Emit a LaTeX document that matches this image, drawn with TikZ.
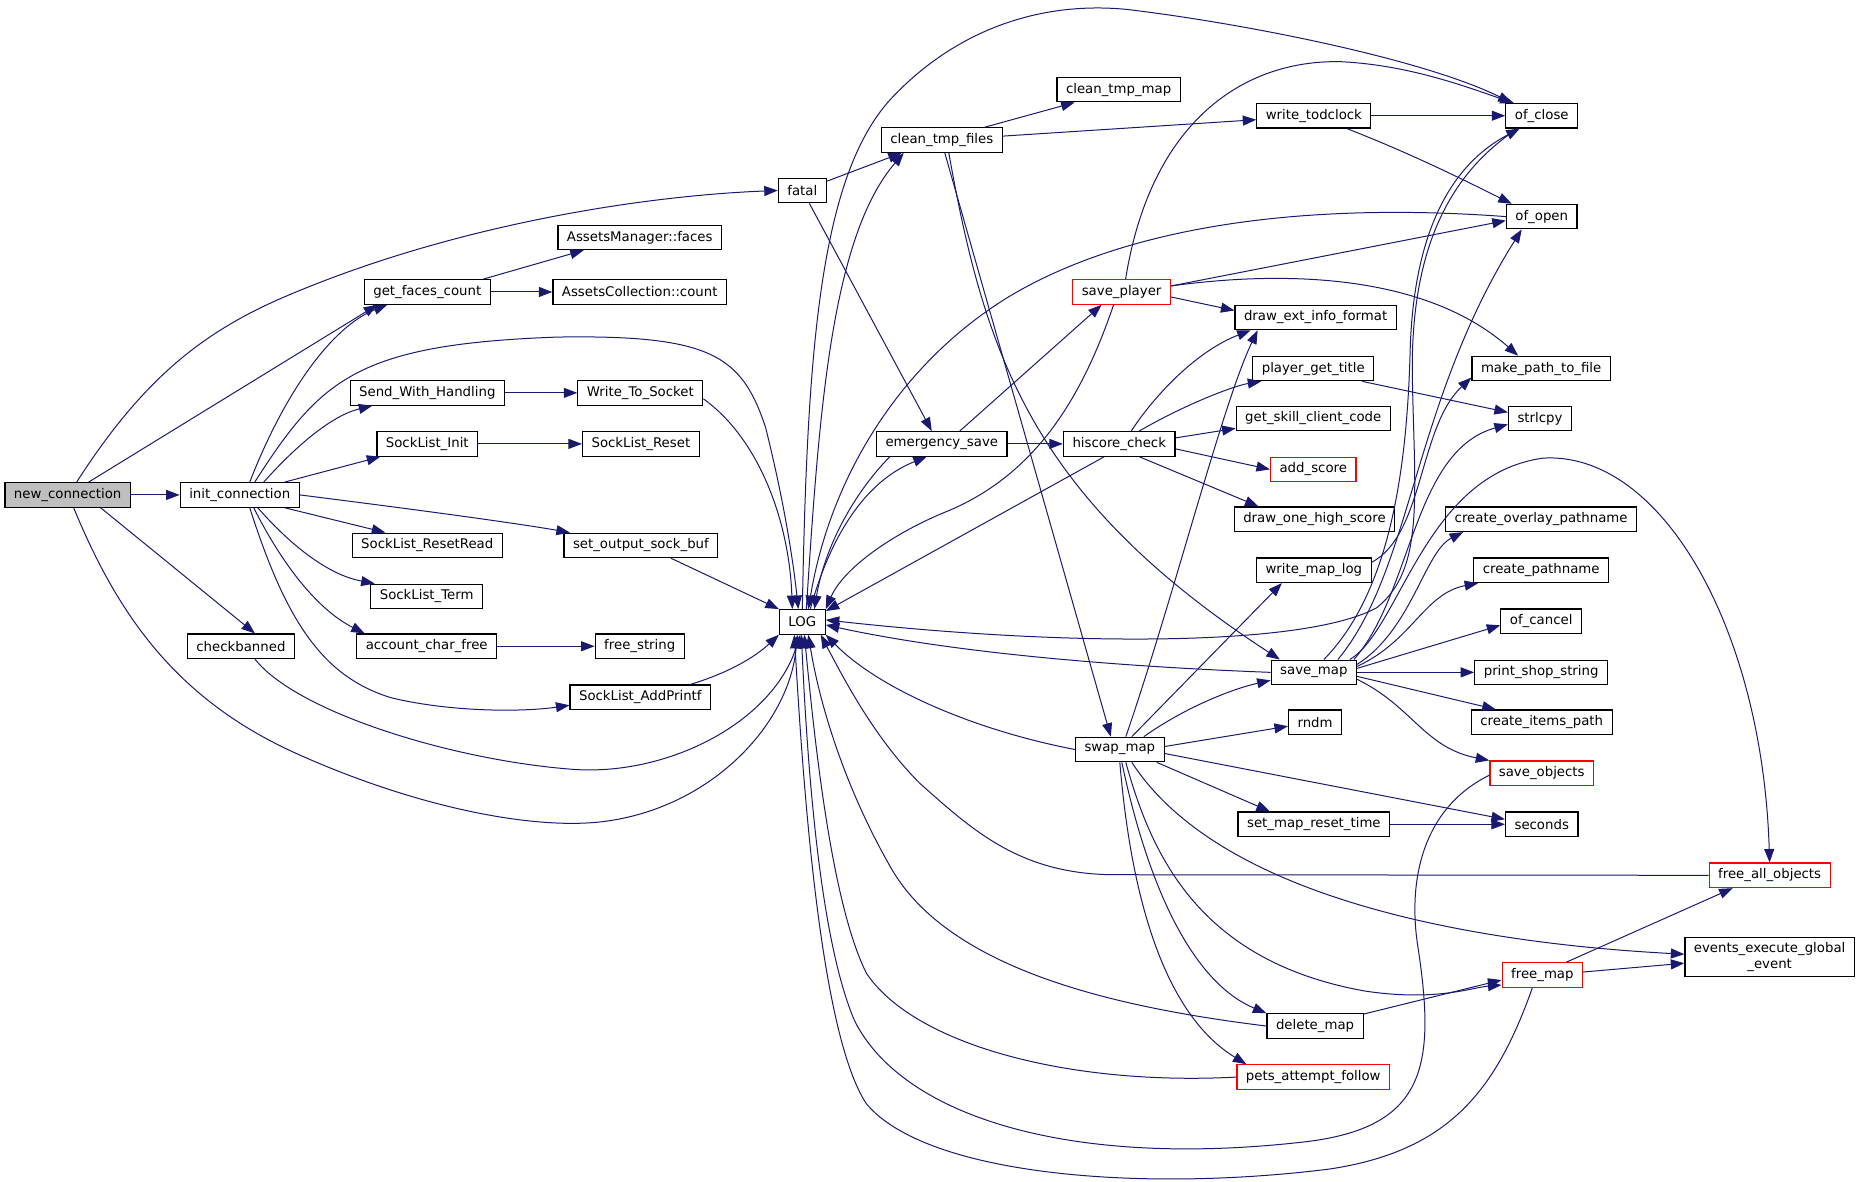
\documentclass[tikz,border=0pt]{standalone}
\usepackage{fontspec}
\setmainfont{DejaVu Sans}
\usetikzlibrary{arrows.meta}
\definecolor{edgeblue}{HTML}{191970}
\definecolor{redline}{HTML}{FF0000}
\definecolor{curgray}{HTML}{BFBFBF}
\begin{document}
\begin{tikzpicture}[x=1.1869pt,y=-1.1869pt,
 fn/.style={draw=black,line width=1.2pt,fill=white,rectangle,inner xsep=9pt,inner ysep=2pt,
  minimum height=24.5pt,font=\fontsize{13.3pt}{16pt}\selectfont},
 fnred/.style={fn,draw=redline},
 fncur/.style={fn,fill=curgray},
 call/.style={draw=edgeblue,line width=1pt,-{Triangle[length=13.5pt,width=10pt]}}]
\useasboundingbox (0,0) rectangle (1568,995.9);
\node[fncur] (newconnection) at (57,417) {new\_connection};
\node[fn] (initconnection) at (202,417) {init\_connection};
\node[fn] (checkbanned) at (203,544.5) {checkbanned};
\node[fn] (fatal) at (676,160.5) {fatal};
\node[fn] (getfacescount) at (360,246) {get\_faces\_count};
\node[fn] (assetsmanagerfaces) at (539,200) {AssetsManager::faces};
\node[fn] (assetscollectioncount) at (539,246) {AssetsCollection::count};
\node[fn] (sendwithhandling) at (360,331) {Send\_With\_Handling};
\node[fn] (writetosocket) at (539.5,331) {Write\_To\_Socket};
\node[fn] (socklistinit) at (360,374) {SockList\_Init};
\node[fn] (socklistreset) at (540,374) {SockList\_Reset};
\node[fn] (socklistresetread) at (360,459.5) {SockList\_ResetRead};
\node[fn] (setoutputsockbuf) at (540,459.5) {set\_output\_sock\_buf};
\node[fn] (socklistterm) at (359.5,502.5) {SockList\_Term};
\node[fn] (accountcharfree) at (359.5,544.5) {account\_char\_free};
\node[fn] (freestring) at (539,544.5) {free\_string};
\node[fn] (socklistaddprintf) at (539.5,587.5) {SockList\_AddPrintf};
\node[fn] (LOG) at (676,524) {LOG};
\node[fn] (cleantmpfiles) at (793.5,118) {clean\_tmp\_files};
\node[fn] (cleantmpmap) at (942.5,75.5) {clean\_tmp\_map};
\node[fn] (writetodclock) at (1107,97.5) {write\_todclock};
\node[fn] (ofclose) at (1299,97.5) {of\_close};
\node[fn] (ofopen) at (1299,182.5) {of\_open};
\node[fnred] (saveplayer) at (945,246) {save\_player};
\node[fn] (drawextinfoformat) at (1108.5,267.5) {draw\_ext\_info\_format};
\node[fn] (playergettitle) at (1106.5,310.5) {player\_get\_title};
\node[fn] (getskillclientcode) at (1106.5,352.5) {get\_skill\_client\_code};
\node[fnred] (addscore) at (1106.5,395.5) {add\_score};
\node[fn] (drawonehighscore) at (1107.5,437.5) {draw\_one\_high\_score};
\node[fn] (writemaplog) at (1107,480.5) {write\_map\_log};
\node[fn] (emergencysave) at (793.5,374) {emergency\_save};
\node[fn] (hiscorecheck) at (943,374) {hiscore\_check};
\node[fn] (makepathtofile) at (1298.5,310.5) {make\_path\_to\_file};
\node[fn] (strlcpy) at (1297.5,352.5) {strlcpy};
\node[fn] (createoverlaypathname) at (1298.5,437.5) {create\_overlay\_pathname};
\node[fn] (createpathname) at (1298.5,480.5) {create\_pathname};
\node[fn] (ofcancel) at (1298.5,523.5) {of\_cancel};
\node[fn] (savemap) at (1107,566.5) {save\_map};
\node[fn] (printshopstring) at (1298.5,566.5) {print\_shop\_string};
\node[fn] (createitemspath) at (1299,608.5) {create\_items\_path};
\node[fn] (rndm) at (1108,608.5) {rndm};
\node[fnred] (saveobjects) at (1299,651.5) {save\_objects};
\node[fn] (swapmap) at (943.5,631.5) {swap\_map};
\node[fn] (setmapresettime) at (1107,694.5) {set\_map\_reset\_time};
\node[fn] (seconds) at (1299,694.5) {seconds};
\node[fnred] (freeallobjects) at (1491,737.5) {free\_all\_objects};
\node[fn,align=center,minimum height=39pt] (eventsexecute) at (1491,806.5) {events\_execute\_global\\\_event};
\node[fnred] (freemap) at (1299.5,821.5) {free\_map};
\node[fn] (deletemap) at (1108,864.5) {delete\_map};
\node[fnred] (petsattemptfollow) at (1106.5,907.5) {pets\_attempt\_follow};

\draw[call] (newconnection) -- (initconnection);
\draw[call] ([xshift=21pt]newconnection.north) -- ([xshift=-50pt]getfacescount.south);
\draw[call] ([xshift=9pt]newconnection.north) .. controls (120,320) and (170,280) .. (240,250) .. controls (380,190) and (540,165) .. (fatal.west);
\draw[call] ([xshift=33pt]newconnection.south) -- ([xshift=14pt]checkbanned.north);
\draw[call] ([xshift=6pt]newconnection.south) .. controls (100,520) and (150,590) .. (250,635) .. controls (350,680) and (450,700) .. (510,692) .. controls (600,680) and (665,610) .. ([xshift=-5pt]LOG.south);
\draw[call] ([xshift=14pt]checkbanned.south) .. controls (250,600) and (380,640) .. (480,648) .. controls (560,655) and (650,610) .. ([xshift=-2pt]LOG.south);
\draw[call] ([xshift=10pt]initconnection.north) .. controls (240,330) and (280,275) .. ([xshift=-40pt]getfacescount.south);
\draw[call] ([xshift=15pt]initconnection.north) .. controls (270,320) and (300,290) .. (470,284) .. controls (600,282) and (625,300) .. (645,360) .. controls (660,420) and (668,470) .. ([xshift=-4pt]LOG.north);
\draw[call] ([xshift=24pt]initconnection.north) .. controls (250,375) and (280,350) .. ([xshift=-55pt]sendwithhandling.south);
\draw[call] ([xshift=45pt]initconnection.north) -- ([xshift=-47pt]socklistinit.south);
\draw[call] ([xshift=45pt]initconnection.south) -- ([xshift=-42pt]socklistresetread.north);
\draw[call] (initconnection.east) .. controls (340,428) and (430,440) .. ([xshift=-71pt]setoutputsockbuf.north);
\draw[call] ([xshift=18pt]initconnection.south) .. controls (250,465) and (280,485) .. ([xshift=-52pt]socklistterm.north);
\draw[call] ([xshift=14pt]initconnection.south) .. controls (240,480) and (270,515) .. ([xshift=-62pt]accountcharfree.north);
\draw[call] ([xshift=10pt]initconnection.south) .. controls (240,520) and (270,570) .. (330,588) .. controls (380,600) and (440,600) .. ([yshift=-8pt]socklistaddprintf.west);
\draw[call] ([xshift=56pt]getfacescount.north) -- ([xshift=-56pt]assetsmanagerfaces.south);
\draw[call] (getfacescount) -- (assetscollectioncount);
\draw[call] (sendwithhandling) -- (writetosocket);
\draw[call] (socklistinit) -- (socklistreset);
\draw[call] (accountcharfree) -- (freestring);
\draw[call] ([yshift=-6pt]writetosocket.east) .. controls (640,370) and (665,440) .. ([xshift=-10pt]LOG.north);
\draw[call] ([xshift=30pt]setoutputsockbuf.south) -- (LOG.north west);
\draw[call] ([xshift=50pt]socklistaddprintf.north) .. controls (620,565) and (640,550) .. (LOG.south west);
\draw[call] (fatal) -- ([xshift=-40pt]cleantmpfiles.south);
\draw[call] ([xshift=7pt]fatal.south) -- ([xshift=-10pt]emergencysave.north);
\draw[call] ([xshift=4pt]LOG.north) .. controls (690,350) and (700,200) .. ([xshift=-38pt]cleantmpfiles.south);
\draw[call] (LOG.north) .. controls (680,300) and (690,150) .. (750,84) .. controls (800,30) and (870,0) .. (950,8) .. controls (1050,20) and (1200,50) .. ([xshift=-30pt]ofclose.north);
\draw[call] ([xshift=8pt]LOG.north) .. controls (700,450) and (730,405) .. ([xshift=-15pt]emergencysave.south);
\draw[call] ([xshift=-52pt]emergencysave.south) .. controls (720,415) and (695,460) .. ([xshift=12pt]LOG.north);
\draw[call] ([xshift=18pt]emergencysave.north) -- ([xshift=-20pt]saveplayer.south);
\draw[call] (emergencysave) -- (hiscorecheck);
\draw[call] ([xshift=-8pt]saveplayer.south) .. controls (910,340) and (870,400) .. (800,430) .. controls (750,450) and (710,480) .. (LOG.north east);
\draw[call] ([xshift=-15pt]hiscorecheck.south) -- ([yshift=-2pt]LOG.north east);
\draw[call] (ofopen.west) .. controls (1100,170) and (950,190) .. (850,250) .. controls (760,305) and (700,400) .. ([xshift=6pt]LOG.north);
\draw[call] ([xshift=43pt]cleantmpfiles.north) -- ([xshift=-44pt]cleantmpmap.south);
\draw[call] (cleantmpfiles) -- ([yshift=-4pt]writetodclock.west);
\draw[call] ([xshift=3pt]cleantmpfiles.south) -- ([xshift=-9pt]swapmap.north);
\draw[call] ([xshift=7pt]cleantmpfiles.south) .. controls (830,300) and (870,420) .. ([xshift=-34pt]savemap.north);
\draw[call] (writetodclock) -- (ofclose);
\draw[call] ([xshift=33pt]writetodclock.south) .. controls (1190,130) and (1230,150) .. ([xshift=-30pt]ofopen.north);
\draw[call] ([xshift=4pt]saveplayer.north) .. controls (970,100) and (1050,50) .. (1130,52) .. controls (1190,55) and (1240,75) .. ([xshift=-28pt]ofclose.north);
\draw[call] ([yshift=6pt]saveplayer.east) -- ([yshift=-4pt]ofopen.west);
\draw[call] ([yshift=-5pt]saveplayer.east) -- ([yshift=7pt]drawextinfoformat.west);
\draw[call] ([yshift=6pt]saveplayer.east) .. controls (1080,228) and (1200,230) .. ([xshift=-23pt]makepathtofile.north);
\draw[call] ([xshift=12pt]hiscorecheck.north) .. controls (975,330) and (1010,295) .. ([xshift=-65pt]drawextinfoformat.south);
\draw[call] ([xshift=20pt]hiscorecheck.north) .. controls (1000,340) and (1040,325) .. ([xshift=-52pt]playergettitle.south);
\draw[call] ([yshift=6pt]hiscorecheck.east) -- ([yshift=-10pt]getskillclientcode.west);
\draw[call] ([yshift=-5pt]hiscorecheck.east) -- (addscore.west);
\draw[call] ([xshift=20pt]hiscorecheck.south) -- ([xshift=-56pt]drawonehighscore.north);
\draw[call] ([xshift=49pt]playergettitle.south) -- ([yshift=6pt]strlcpy.west);
\draw[call] ([xshift=6pt]swapmap.north) .. controls (990,500) and (1030,340) .. ([xshift=-58pt]drawextinfoformat.south);
\draw[call] ([xshift=12pt]swapmap.north) -- ([xshift=-32pt]writemaplog.south);
\draw[call] ([xshift=24pt]swapmap.north) .. controls (1000,595) and (1040,580) .. ([yshift=-8pt]savemap.west);
\draw[call] ([yshift=3pt]swapmap.east) -- ([yshift=-4pt]rndm.west);
\draw[call] ([xshift=37pt]swapmap.south) -- ([xshift=-44pt]setmapresettime.north);
\draw[call] ([yshift=-4pt]swapmap.east) -- ([yshift=5pt]seconds.west);
\draw[call] ([xshift=12pt]swapmap.south) .. controls (1030,760) and (1250,795) .. ([yshift=3pt]eventsexecute.west);
\draw[call] ([xshift=6pt]swapmap.south) .. controls (970,720) and (1010,810) .. (1150,835) .. controls (1210,844) and (1240,832) .. ([yshift=-10pt]freemap.west);
\draw[call] ([xshift=2pt]swapmap.south) .. controls (970,760) and (1010,830) .. (deletemap.north west);
\draw[call] (swapmap.south) .. controls (955,780) and (990,860) .. ([xshift=10pt]petsattemptfollow.north west);
\draw[call] (swapmap.west) .. controls (820,615) and (740,580) .. (LOG.south east);
\draw[call] (deletemap) -- ([yshift=-5pt]freemap.west);
\draw[call] (deletemap.west) .. controls (950,850) and (800,820) .. (750,730) .. controls (710,660) and (690,590) .. ([xshift=6pt]LOG.south);
\draw[call] (petsattemptfollow.west) .. controls (900,915) and (770,880) .. (730,820) .. controls (700,760) and (686,620) .. ([xshift=2pt]LOG.south);
\draw[call] ([yshift=-2pt]saveobjects.west) .. controls (1200,680) and (1185,740) .. (1195,800) .. controls (1210,900) and (1200,950) .. (1100,962) .. controls (900,985) and (760,940) .. (720,860) .. controls (690,790) and (680,640) .. ([xshift=-1pt]LOG.south);
\draw[call] ([xshift=-10pt]freemap.south) .. controls (1260,920) and (1220,970) .. (1120,985) .. controls (960,1005) and (780,990) .. (730,930) .. controls (690,870) and (676,650) .. ([xshift=-8pt]LOG.south);
\draw[call] (freeallobjects.west) -- (940,737) .. controls (860,737) and (820,700) .. (775,660) .. controls (740,625) and (715,580) .. ([xshift=-5pt]LOG.south east);
\draw[call] ([xshift=24pt]freemap.north) -- ([xshift=-37pt]freeallobjects.south);
\draw[call] ([yshift=3pt]freemap.east) -- ([yshift=-6pt]eventsexecute.west);
\draw[call] (savemap.west) .. controls (900,560) and (780,545) .. ([yshift=-3pt]LOG.east);
\draw[call] ([xshift=-24pt]ofclose.south) .. controls (1215,150) and (1188,220) .. (1190,320) .. controls (1192,420) and (1200,480) .. (1160,512) .. controls (1100,545) and (900,545) .. ([yshift=2pt]LOG.east);
\draw[call] ([xshift=36pt]savemap.north) .. controls (1180,530) and (1200,400) .. (1300,386) .. controls (1400,380) and (1485,530) .. (freeallobjects.north);
\draw[call] ([xshift=10pt]savemap.north) .. controls (1170,500) and (1185,400) .. (1188,300) .. controls (1190,200) and (1220,140) .. ([xshift=-22pt]ofclose.south);
\draw[call] ([xshift=24pt]savemap.north) .. controls (1190,480) and (1190,340) .. ([xshift=-20pt]ofopen.south);
\draw[call] ([yshift=8pt]writemaplog.east) .. controls (1200,450) and (1195,360) .. ([yshift=-9pt]makepathtofile.west);
\draw[call] ([xshift=40pt]savemap.north) .. controls (1190,500) and (1190,380) .. ([yshift=-6pt]strlcpy.west);
\draw[call] ([yshift=8pt]savemap.east) .. controls (1190,530) and (1200,465) .. ([xshift=-78pt]createoverlaypathname.south);
\draw[call] ([yshift=6pt]savemap.east) .. controls (1190,540) and (1200,500) .. ([xshift=-63pt]createpathname.south);
\draw[call] ([yshift=4pt]savemap.east) -- ([yshift=-4pt]ofcancel.west);
\draw[call] (savemap) -- (printshopstring);
\draw[call] ([yshift=-4pt]savemap.east) -- ([xshift=-46pt]createitemspath.north);
\draw[call] ([yshift=-7pt]savemap.east) .. controls (1190,595) and (1200,630) .. (saveobjects.north west);
\draw[call] (setmapresettime) -- (seconds);
\end{tikzpicture}
\end{document}
